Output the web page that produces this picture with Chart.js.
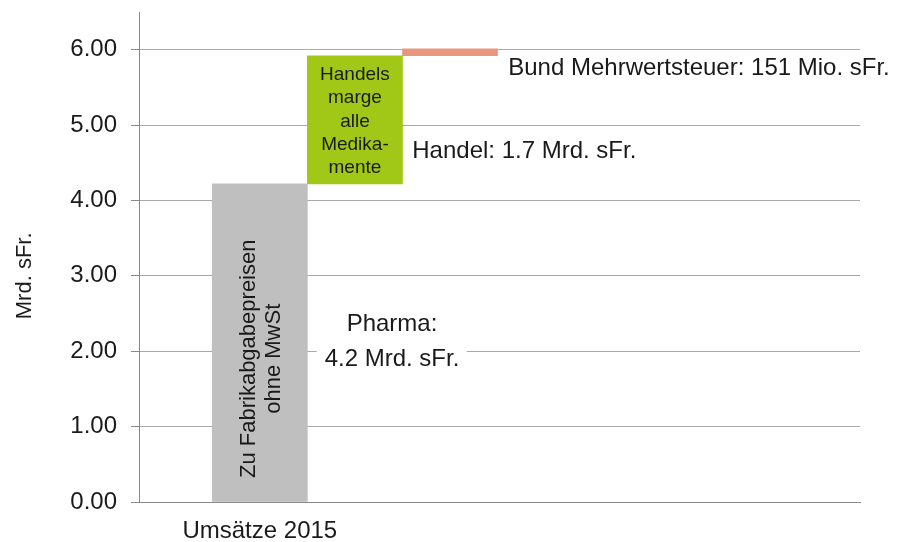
<!DOCTYPE html>
<html><head><meta charset="utf-8">
<script src="https://cdn.jsdelivr.net/npm/chart.js@4/dist/chart.umd.min.js"></script>
<style>html,body{margin:0;padding:0;background:#fff}</style>
</head><body>
<canvas id="c" width="906" height="542"></canvas>
<script>
// ---- data ----
const categories = ['Umsätze 2015'];
const stepNames = ['Pharma', 'Handel', 'Bund Mehrwertsteuer'];
const stepValues = [4.22, 1.70, 0.09];          // Mrd. sFr., as drawn
const yTickValues = [0, 1, 2, 3, 4, 5, 6];
const yAxisTitle = 'Mrd. sFr.';
const barInnerLabels = [['Zu Fabrikabgabepreisen', 'ohne MwSt'], ['Handels', 'marge', 'alle', 'Medika-', 'mente'], []];
const calloutTexts = [['Pharma:', '4.2 Mrd. sFr.'], ['Handel: 1.7 Mrd. sFr.'], ['Bund Mehrwertsteuer: 151 Mio. sFr.']];

// ---- styles / layout ----
const FONT = '"Liberation Sans", Arial, sans-serif';
const TEXT = '#1a1a1a';
const barColors = ['#bfbfbf', '#a1c817', '#e8977f'];
const innerLabelStyle = [
  {size: 22, lineH: 25, rotate: true, centerValue: 1.9},
  {size: 19, lineH: 23.4, rotate: false},
  null
];
const calloutLayout = [
  {x: 2.39, ys: [2.268, 1.804], align: 'center', box: {x0: 1.598, x1: 3.175, y0: 2.64, y1: 1.66}},
  {x: 2.603, ys: [4.559], align: 'left'},
  {x: 3.612, ys: [5.664], align: 'left'}
];

// waterfall: each step floats on the running total
let running = 0;
const barData = stepValues.map((v, i) => {
  const item = {x: i + 1, y: [running, running + v], name: stepNames[i]};
  running += v;
  return item;
});

const overlay = {
  id: 'overlay',
  afterDatasetsDraw(chart) {
    const ctx = chart.ctx;
    const xs = chart.scales.x, ys = chart.scales.y;
    const meta = chart.getDatasetMeta(0);
    ctx.save();
    meta.data.forEach((bar, i) => {
      const st = innerLabelStyle[i];
      const lines = barInnerLabels[i];
      if (!st || !lines.length) return;
      ctx.font = st.size + 'px ' + FONT;
      ctx.fillStyle = TEXT;
      ctx.textAlign = 'center';
      ctx.textBaseline = 'alphabetic';
      const n = lines.length;
      const capHalf = 0.358 * st.size;
      if (st.rotate) {
        const cy = ys.getPixelForValue(st.centerValue);
        ctx.save();
        ctx.translate(bar.x, cy);
        ctx.rotate(-Math.PI / 2);
        lines.forEach((t, k) => ctx.fillText(t, 0, (k - (n - 1) / 2) * st.lineH + capHalf));
        ctx.restore();
      } else {
        const cy = (bar.y + bar.base) / 2;
        lines.forEach((t, k) => ctx.fillText(t, bar.x, cy + (k - (n - 1) / 2) * st.lineH + capHalf));
      }
    });
    calloutLayout.forEach((c, i) => {
      if (c.box) {
        ctx.fillStyle = '#ffffff';
        const x0 = xs.getPixelForValue(c.box.x0), x1 = xs.getPixelForValue(c.box.x1);
        const y0 = ys.getPixelForValue(c.box.y0), y1 = ys.getPixelForValue(c.box.y1);
        ctx.fillRect(x0, y0, x1 - x0, y1 - y0);
      }
      ctx.font = '24px ' + FONT;
      ctx.fillStyle = TEXT;
      ctx.textAlign = c.align;
      ctx.textBaseline = 'alphabetic';
      calloutTexts[i].forEach((t, k) => ctx.fillText(t, xs.getPixelForValue(c.x), ys.getPixelForValue(c.ys[k])));
    });
    ctx.font = '22px ' + FONT;
    ctx.fillStyle = TEXT;
    ctx.textAlign = 'center';
    ctx.textBaseline = 'alphabetic';
    ctx.translate(31, ys.getPixelForValue((yTickValues[0] + yTickValues[yTickValues.length - 1]) / 2));
    ctx.rotate(-Math.PI / 2);
    ctx.fillText(yAxisTitle, 0, 0);
    ctx.restore();
  }
};

new Chart(document.getElementById('c'), {
  type: 'bar',
  data: {
    datasets: [{
      label: 'Umsätze',
      data: barData,
      backgroundColor: barColors,
      borderWidth: 0,
      barPercentage: 1,
      categoryPercentage: 1
    }]
  },
  options: {
    responsive: false,
    devicePixelRatio: 1,
    animation: false,
    layout: {padding: {left: 0, right: 46, top: 12, bottom: 0}},
    plugins: {legend: {display: false}, tooltip: {enabled: false}},
    scales: {
      x: {
        type: 'linear',
        offset: false,
        bounds: 'data',
        min: -0.27,
        max: 7.31,
        afterBuildTicks: s => { s.ticks = categories.map((c, i) => ({value: i + 1})); },
        afterFit: s => { s.height = 40; s.paddingLeft = 0; s.paddingRight = 0; },
        ticks: {
          callback: (v, i) => categories[i],
          font: {family: FONT, size: 24},
          color: TEXT,
          padding: 15,
          maxRotation: 0,
          autoSkip: false
        },
        grid: {display: false, drawTicks: false},
        border: {display: true, color: '#888888', width: 1}
      },
      y: {
        min: 0,
        max: 6.5,
        afterBuildTicks: s => { s.ticks = yTickValues.map(v => ({value: v})); },
        afterFit: s => { s.width = 139; s.paddingTop = 0; s.paddingBottom = 0; },
        ticks: {
          callback: v => Number(v).toFixed(2),
          font: {family: FONT, size: 24},
          color: TEXT,
          padding: 14
        },
        grid: {color: '#a9a9a9', lineWidth: 1, drawTicks: true, tickLength: 8, tickColor: '#888888'},
        border: {display: true, color: '#888888', width: 1}
      }
    }
  },
  plugins: [overlay]
});
</script>
</body></html>
